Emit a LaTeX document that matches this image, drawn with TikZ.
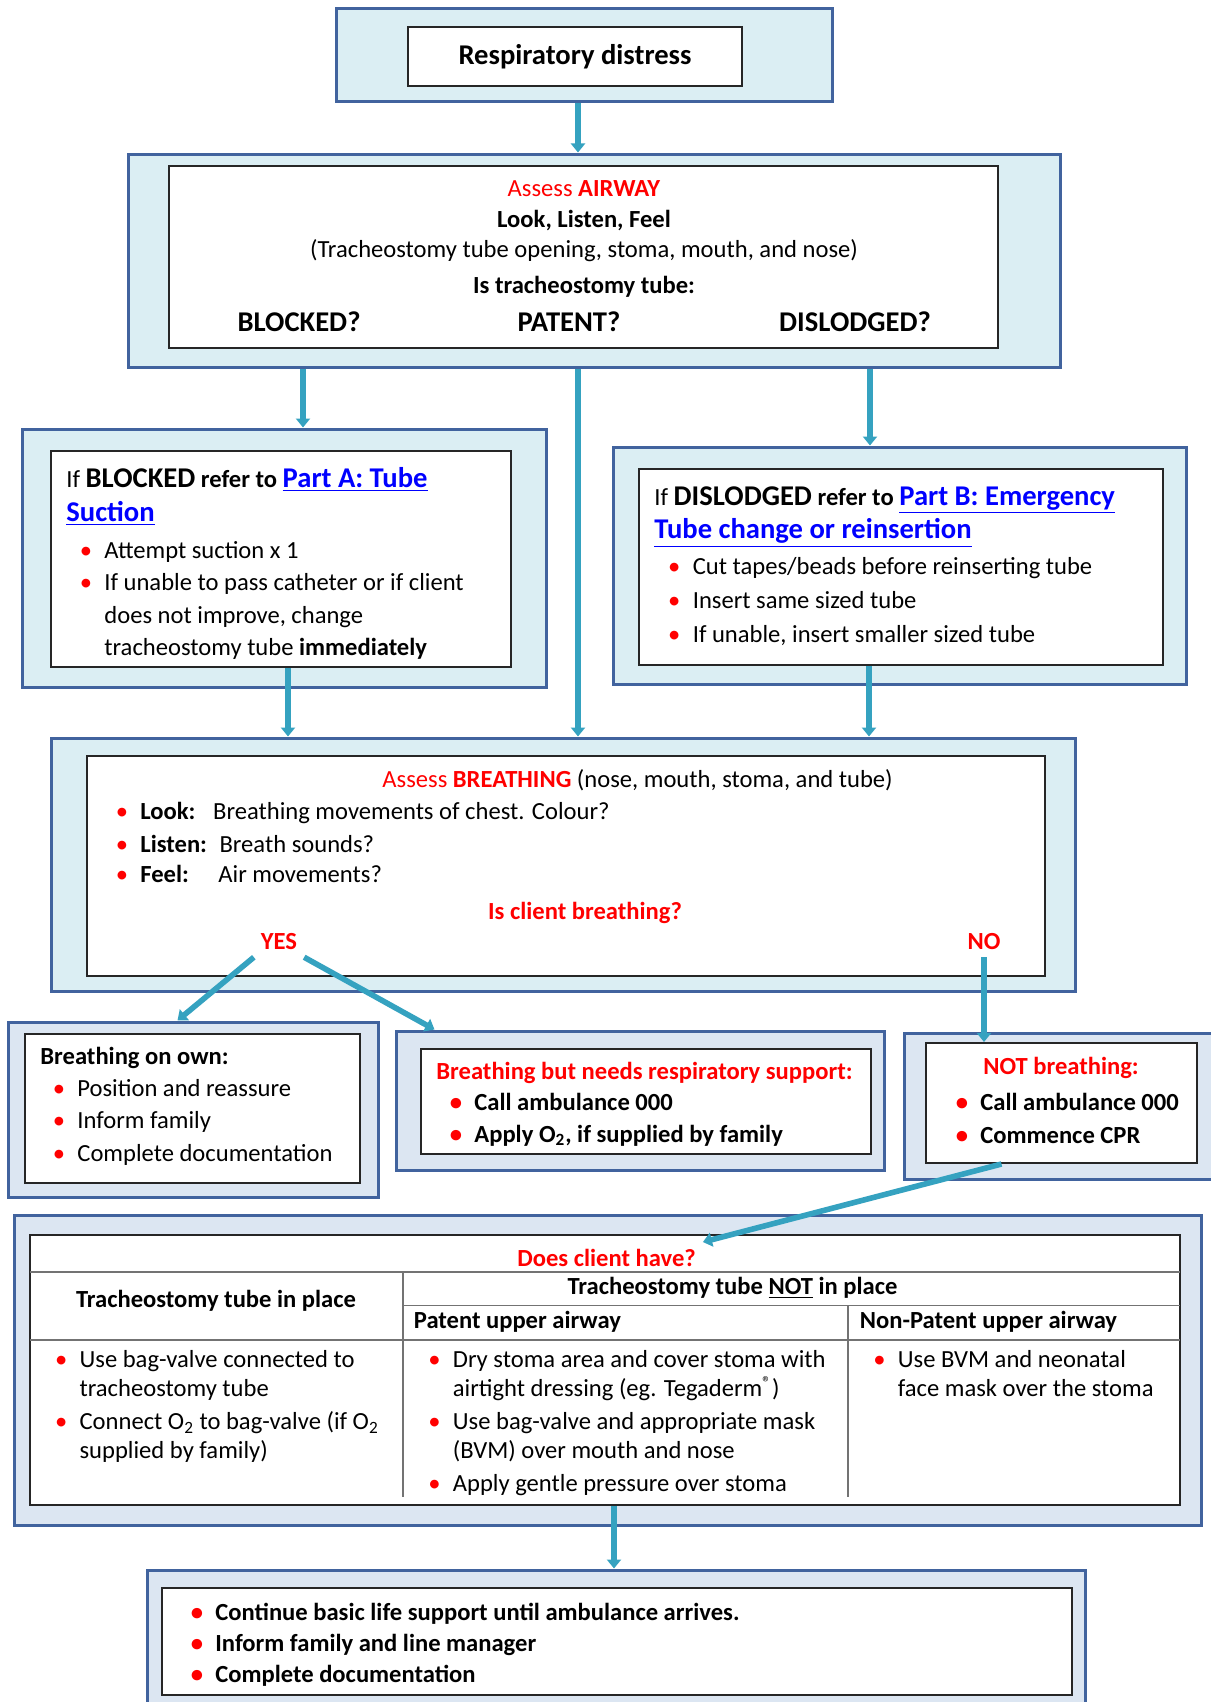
\documentclass[tikz,border=0pt]{standalone}
\usepackage{fontspec}
\setmainfont{Carlito}
\usetikzlibrary{arrows.meta}
\usetikzlibrary{fit}
\definecolor{paleAqua}{HTML}{DBEEF3}
\definecolor{paleBlue}{HTML}{DCE6F2}
\definecolor{frameBlue}{HTML}{41639E}
\definecolor{flowTeal}{HTML}{35A2C0}
\definecolor{alertRed}{HTML}{FF0000}
\definecolor{linkBlue}{HTML}{0000FF}
\newcommand\bodySize{\fontsize{12.3}{16.3}\selectfont}
\newcommand\bigSize{\fontsize{14.3}{16.3}\selectfont}
\newcommand\topStrut{\rule{0pt}{11pt}}
\newcommand\redBullet{\makebox[12.3pt][l]{\textcolor{alertRed}{\textbullet}}}
\newcommand\bulletGap{\hspace*{12.3pt}}
\newcommand\partLink[1]{\textcolor{linkBlue}{\underline{#1}}}
\newcommand\oxy{O\textsubscript{2}}

\begin{document}
\begin{tikzpicture}[
    x=0.5pt, y=-0.5pt,
    font=\bodySize,
    outerBox/.style={draw=frameBlue, line width=1.5pt, fill=paleAqua, inner sep=0pt},
    lowerBox/.style={outerBox, fill=paleBlue},
    innerBox/.style={draw=black!85, line width=1pt, fill=white, inner sep=0pt},
    textBlock/.style={anchor=north west, align=left, inner sep=0pt},
    flow/.style={draw=flowTeal, line width=2.8pt, -{Triangle[width=7pt,length=4.5pt]}},
    alert/.style={text=alertRed, font=\bodySize\bfseries},
    gridLine/.style={draw=black!55, line width=0.8pt}
  ]
    \useasboundingbox (0,0) rectangle (1210,1702);

    \node[outerBox, fit={(336,9) (832,102)}] (topout) {};
    \node[innerBox, fit={(408,27) (742,86)}] (topin) {};
    \node[font=\bigSize\bfseries] (toptext) at (575,56.5) {Respiratory distress};

    \node[outerBox, fit={(128,154) (1060,367)}] (airout) {};
    \node[innerBox, fit={(169,166) (998,348)}] (airin) {};
    \node[anchor=north, align=center, inner sep=0pt, font=\fontsize{12.3}{15.2}\selectfont] (airtext) at (584,174.5)
      {\topStrut\textcolor{alertRed}{Assess \textbf{AIRWAY}}\\ \textbf{Look, Listen, Feel}\\
       (Tracheostomy tube opening, stoma, mouth, and nose)\\[2.8pt] \textbf{Is tracheostomy tube:}};
    \node[font=\bigSize\bfseries] (blocked) at (299,322) {BLOCKED?};
    \node[font=\bigSize\bfseries] (patent) at (569,322) {PATENT?};
    \node[font=\bigSize\bfseries] (dislodged) at (855,322) {DISLODGED?};

    \node[outerBox, fit={(22,429) (546,687)}] (blkout) {};
    \node[innerBox, fit={(51,451) (511,667)}] (blkin) {};
    \node[textBlock] (blkhead) at (66,465.2)
      {\topStrut If \textbf{{\bigSize BLOCKED} refer to {\bigSize\partLink{Part A: Tube}}}\\[0.5pt]
       \textbf{\bigSize\partLink{Suction}}};
    \node[textBlock] (blklist) at (79.4,535.6)
      {\topStrut\redBullet Attempt suction x 1\\ \redBullet If unable to pass catheter or if client\\
       \bulletGap does not improve, change\\ \bulletGap tracheostomy tube \textbf{immediately}};

    \node[outerBox, fit={(613,447) (1186,684)}] (dslout) {};
    \node[innerBox, fit={(639,469) (1163,665)}] (dslin) {};
    \node[textBlock] (dslhead) at (654,482.6)
      {\topStrut If \textbf{{\bigSize DISLODGED} refer to {\bigSize\partLink{Part B: Emergency}}}\\[0.5pt]
       \textbf{\bigSize\partLink{Tube change or reinsertion}}};
    \node[textBlock] (dsllist) at (667.8,551.9)
      {\topStrut\redBullet Cut tapes/beads before reinserting tube\\[0.8pt] \redBullet Insert same sized tube\\[0.8pt]
       \redBullet If unable, insert smaller sized tube};

    \node[outerBox, fit={(51,738) (1075,991)}] (brout) {};
    \node[innerBox, fit={(87,756) (1045,976)}] (brin) {};
    \node[textBlock] (brhead) at (382,765.4)
      {\topStrut\textcolor{alertRed}{Assess \textbf{BREATHING}} (nose, mouth, stoma, and tube)};
    \node[textBlock] (brlist) at (115.4,797.1)
      {\topStrut\redBullet\makebox[36.4pt][l]{\textbf{Look:}}Breathing movements of chest. Colour?\\
       \redBullet\makebox[39.6pt][l]{\textbf{Listen:}}Breath sounds?\\[-1.1pt]
       \redBullet\makebox[39pt][l]{\textbf{Feel:}}Air movements?};
    \node[alert] (breathq) at (585,912.7) {Is client breathing?};
    \node[alert] (yes) at (279,942) {YES};
    \node[alert] (no) at (984,942) {NO};

    \node[lowerBox, fit={(8,1022) (378,1197)}] (ownout) {};
    \node[innerBox, fit={(25,1034) (360,1183)}] (ownin) {};
    \node[textBlock, font=\bodySize\bfseries] (ownhead) at (40,1042.4) {\topStrut Breathing on own:};
    \node[textBlock] (ownlist) at (52.4,1073.9)
      {\topStrut\redBullet Position and reassure\\ \redBullet Inform family\\ \redBullet Complete documentation};

    \node[lowerBox, fit={(396,1031) (884,1170)}] (sptout) {};
    \node[innerBox, fit={(421,1049) (871,1154)}] (sptin) {};
    \node[textBlock, alert] (spthead) at (436,1057.4) {\topStrut Breathing but needs respiratory support:};
    \node[textBlock, font=\bodySize\bfseries] (sptlist) at (449.4,1088)
      {\topStrut\redBullet Call ambulance 000\\[-0.45pt] \redBullet Apply \oxy, if supplied by family};

    \node[lowerBox, fit={(904,1033) (1214,1179)}] (notout) {};
    \node[innerBox, fit={(926,1043) (1197,1163)}] (notin) {};
    \node[alert] (nothead) at (1061,1068) {NOT breathing:};
    \node[textBlock, font=\bodySize\bfseries] (notlist) at (955.4,1088)
      {\topStrut\redBullet Call ambulance 000\\ \redBullet Commence CPR};

    \node[lowerBox, fit={(14,1215) (1201,1525)}] (tblout) {};
    \node[innerBox, fit={(30,1235) (1180,1505)}] (tblin) {};
    \draw[gridLine] (30,1272) -- (1180,1272);
    \draw[gridLine] (403,1305.5) -- (1180,1305.5);
    \draw[gridLine] (30,1340) -- (1180,1340);
    \draw[gridLine] (403,1272) -- (403,1497);
    \draw[gridLine] (848,1305.5) -- (848,1497);
    \node[alert] (ask) at (606.6,1257.8) {Does client have?};
    \node[font=\bodySize\bfseries] (inplace) at (216,1301) {Tracheostomy tube in place};
    \node[font=\bodySize\bfseries] (notplace) at (732.5,1288) {Tracheostomy tube \underline{NOT} in place};
    \node[anchor=west, inner sep=0pt, font=\bodySize\bfseries] (patenthead) at (413.5,1321.8) {Patent upper airway};
    \node[anchor=west, inner sep=0pt, font=\bodySize\bfseries] (nonpatenthead) at (859.5,1321.8) {Non-Patent upper airway};
    \node[textBlock, font=\fontsize{12.3}{14.6}\selectfont] (inplacelist) at (54.6,1345.2)
      {\topStrut\redBullet Use bag-valve connected to\\ \bulletGap tracheostomy tube\\[1.7pt]
       \redBullet Connect \oxy{} to bag-valve (if \oxy\\ \bulletGap supplied by family)};
    \node[textBlock, font=\fontsize{12.3}{14.6}\selectfont] (patentlist) at (427.9,1345.2)
      {\topStrut\redBullet Dry stoma area and cover stoma with\\
       \bulletGap airtight dressing (eg. Tegaderm\textsuperscript{\textregistered})\\[1.7pt]
       \redBullet Use bag-valve and appropriate mask\\ \bulletGap (BVM) over mouth and nose\\[1.7pt]
       \redBullet Apply gentle pressure over stoma};
    \node[textBlock, font=\fontsize{12.3}{14.6}\selectfont] (nonpatentlist) at (872.9,1345.2)
      {\topStrut\redBullet Use BVM and neonatal\\ \bulletGap face mask over the stoma};

    \node[lowerBox, fit={(147,1570) (1085,1712)}] (botout) {};
    \node[innerBox, fit={(162,1588) (1072,1695)}] (botin) {};
    \node[textBlock, font=\fontsize{12.3}{15.5}\selectfont\bfseries] (botlist) at (190.4,1598)
      {\topStrut\redBullet Continue basic life support until ambulance arrives.\\
       \redBullet Inform family and line manager\\ \redBullet Complete documentation};

    \coordinate (laneMid) at (578,0);
    \coordinate (laneBlk) at (303,0);
    \coordinate (laneDsl) at (870,0);
    \coordinate (laneBlkOut) at (288,0);
    \coordinate (laneDslOut) at (869,0);
    \coordinate (laneEnd) at (614,0);

    \draw[flow] (laneMid |- topout.south) -- (laneMid |- airout.north);
    \draw[flow] (laneBlk |- airout.south) -- (laneBlk |- blkout.north);
    \draw[flow] (laneMid |- airout.south) -- (laneMid |- brout.north);
    \draw[flow] (laneDsl |- airout.south) -- (laneDsl |- dslout.north);
    \draw[flow] (laneBlkOut |- blkin.south) -- (laneBlkOut |- brout.north);
    \draw[flow] (laneDslOut |- dslin.south) -- (laneDslOut |- brout.north);
    \draw[flow] (yes.south west) -- ([xshift=85.5pt]ownout.north west);
    \draw[flow] (yes.south east) -- ([xshift=20pt]sptout.north west);
    \draw[flow] (no.south) -- (no.south |- notin.north);
    \draw[flow] ([xshift=-30pt]notin.south) -- (ask.north east);
    \draw[flow] (laneEnd |- tblin.south) -- (laneEnd |- botout.north);
  \end{tikzpicture}
\end{document}
